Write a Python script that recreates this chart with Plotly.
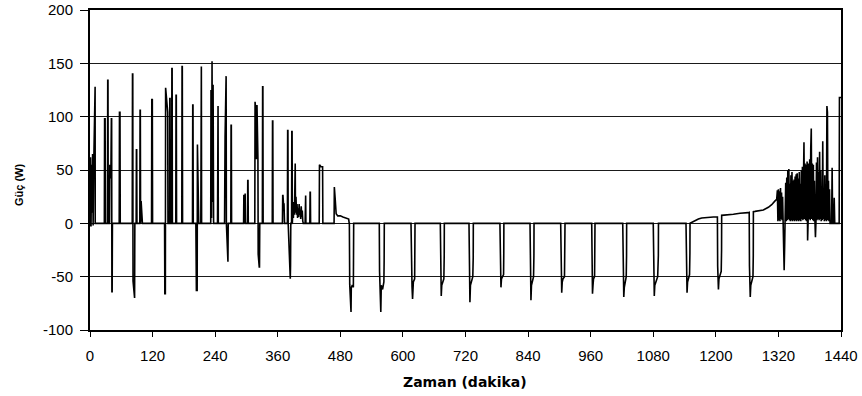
import plotly.graph_objects as go

# ---------------- data (minutes, watts) ----------------
morning_t = [0, 0.5, 1, 2, 3, 4, 5, 6, 7, 9, 9.8, 10,
             27.5, 28, 29, 29.5,
             33.5, 34, 34.5, 35,
             37.5, 38, 39, 40, 41, 41.5, 42, 42.5, 43,
             56, 56.5, 57.5, 58,
             81, 81.5, 82, 82.5, 85.5, 86,
             88.5, 89, 89.5, 90,
             95.5, 96, 96.5, 97, 98, 100.5,
             118, 118.5, 119.5, 120,
             143, 143.5, 144.5, 145, 149, 149.5,
             152.5, 153, 153.5, 154,
             156.5, 157, 157.5, 158,
             164.5, 165, 165.5, 166,
             176, 176.5, 177, 177.5,
             196.5, 197, 197.5, 198,
             203, 204, 205.5, 206, 208, 208.5,
             212.5, 213, 213.5, 214,
             231.5, 232, 233, 234, 235, 236, 237,
             244.5, 245, 245.5, 246,
             258, 259, 260.5, 261, 261.5, 262, 264, 264.5, 265,
             270, 270.5, 271, 271.5,
             294.5, 295, 295.5, 296, 297, 297.5, 298,
             302, 302.5, 303, 303.5,
             316, 316.5, 318, 319, 320.2, 322, 322.5, 324.5, 325, 325.5,
             330.5, 331, 331.5, 332]
morning_w = [0, -3, 62, -3, 55, 10, 65, -2, 50, 128, 128, 0,
             0, 98, 98, 0,
             0, 134, 134, 0,
             0, 55, 50, 42, 98, 98, -64, -64, 0,
             0, 104, 104, 0,
             0, 140, 140, -54, -70, 0,
             0, 69, 69, 0,
             0, 106, 106, 0, 21, 0,
             0, 116, 116, 0,
             0, -66, -66, 127, 104, 0,
             0, 117, 117, 0,
             0, 145, 145, 0,
             0, 120, 120, 0,
             0, 147, 147, 0,
             0, 111, 111, 0,
             0, -63, -63, 74, 30, 0,
             0, 147, 147, 0,
             0, 125, 5, 152, 20, 130, 0,
             0, 110, 110, 0,
             0, 81, 138, 138, 0, -10, -36, -36, 0,
             0, 92, 92, 0,
             0, 26, 26, 0, 28, 28, 0,
             0, 40, 40, 0,
             0, 114, 105, 60, 111, 60, -29, -41, -41, 0,
             0, 128, 128, 0]

late_morning_t = [349.5, 350, 350.5, 351,
                  369, 369.5, 370, 371, 372, 373,
                  378.5, 379, 379.5, 380, 381, 384, 384.5, 385,
                  386.5, 387, 387.5, 388, 389, 390, 391, 392, 393, 393.5, 394, 395,
                  396, 397, 398, 399, 400, 401, 402, 403, 404, 405, 406, 407, 408, 409,
                  412.5, 413, 413.5, 414,
                  421.5, 422, 422.5, 423,
                  439.5, 440, 443, 446, 446.5,
                  468, 468.5, 470, 472, 475, 480, 485, 490, 496, 497]
late_morning_w = [0, 96, 96, 0,
                  0, 26, 26, 18, 18, 0,
                  0, 87, 87, 0, -13, -52, -40, 0,
                  0, 86, 86, 0, 15, 5, 20, 8, 56, 56, 10, 25,
                  8, 18, 5, 14, 6, 18, 8, 12, 4, 16, 6, 12, 2, 0,
                  0, 26, 26, 0,
                  0, 29, 29, 0,
                  0, 55, 53, 53, 0,
                  0, 34, 24, 9, 7, 7, 6, 5, 4, 0]

midday_t = [497.3, 498, 500.5, 501, 503, 505, 505.3, 505.6,
            554.7, 555.2, 557.6, 558.5, 561, 563.5, 564, 564.3,
            615.5, 616, 617.5, 618.5, 620, 622.5, 623, 623.2,
            671.7, 672.2, 673.5, 674.5, 676, 678.5, 679.2, 679.4,
            726.7, 727.2, 728.5, 729.5, 731, 734, 734.8, 735,
            786, 786.5, 788, 789, 790.5, 793, 793.4, 793.6,
            843.7, 844.2, 845.5, 846.5, 848, 850.5, 851.2, 851.4,
            902.5, 903, 904.5, 905.5, 907, 909.8, 910.6, 910.8,
            962, 962.5, 963.5, 964.5, 965.5, 967.5, 968.1, 968.3,
            1021.5, 1022, 1023.5, 1024.5, 1026, 1028.2, 1028.8, 1029,
            1080, 1080.6, 1082, 1083, 1085, 1088.5, 1089.8, 1090,
            1142.8, 1143.3, 1144.8, 1145.8, 1147, 1149.6, 1150.3, 1150.5,
            1166.5, 1172.9, 1195.2,
            1203, 1203.5, 1205, 1206, 1207.5, 1210.3, 1211, 1211.2,
            1233.6, 1246.4, 1262,
            1264, 1264.5, 1266, 1267, 1268.5, 1271.2, 1271.8, 1272,
            1275.1, 1291.1, 1300.7, 1307.1, 1313.5, 1316.7]
midday_w = [0, -57, -83, -60, -58, -60, -30, 0,
            0, -45, -83, -58, -62, -55, -35, 0,
            0, -45, -60, -71, -55, -52, -30, 0,
            0, -45, -68, -58, -55, -52, -30, 0,
            0, -45, -74, -58, -55, -50, -32, 0,
            0, -40, -60, -52, -50, -48, -28, 0,
            0, -45, -72, -58, -55, -50, -30, 0,
            0, -45, -65, -55, -52, -50, -28, 0,
            0, -45, -66, -58, -52, -50, -28, 0,
            0, -45, -69, -60, -55, -50, -30, 0,
            0, -45, -68, -58, -55, -50, -30, 0,
            0, -45, -65, -55, -52, -48, -28, 0,
            4, 5, 6,
            6, -40, -62, -52, -50, -45, -25, 7.5,
            8.5, 9.5, 10,
            10.3, -40, -69, -58, -55, -50, -30, 11,
            11.2, 12.5, 15, 17.5, 21, 22.5]

evening_t = [1318, 1319, 1320, 1321, 1322, 1323, 1324, 1325, 1326, 1327, 1328,
             1331, 1332, 1333, 1334, 1335, 1336, 1337, 1338, 1339, 1340,
             1341, 1342, 1343, 1344, 1345, 1346, 1347, 1348, 1349, 1350,
             1351, 1352, 1353, 1354, 1355, 1356, 1357, 1358, 1359, 1360,
             1361, 1362, 1363, 1364, 1365, 1366, 1367, 1368, 1369, 1370,
             1371, 1372, 1373, 1374, 1375, 1376, 1377, 1378, 1379, 1380,
             1381, 1382, 1383, 1384, 1385, 1386, 1387, 1388, 1389, 1390,
             1391, 1392, 1393, 1394, 1395, 1396, 1397, 1398, 1399, 1400,
             1401, 1402, 1403, 1404, 1405, 1406, 1407, 1408, 1409, 1410,
             1411, 1412, 1413, 1414, 1415, 1416, 1417, 1418, 1419,
             1422, 1423, 1424, 1426, 1427, 1428, 1436.5, 1437, 1440]
evening_w = [31, 2, 32, 3, 30, 2, 33, 4, 29, 3, 25,
             -44, -20, 0, 38, 2, 43, 3, 50, 4, 51,
             3, 37, 2, 45, 3, 48, 2, 40, 3, 41,
             2, 44, 3, 46, 2, 47, 3, 42, 2, 48,
             3, 37, 2, 50, 4, 53, 3, 58, 76, 4,
             56, 3, 55, 2, 58, -16, 3, 56, 4, 60,
             3, 70, 89, 4, 56, 3, 55, 2, 40, 3,
             -13, 2, 57, 3, 62, 4, 48, 3, 67, 4,
             50, 2, 35, 3, 77, 4, 32, 2, 45, 3,
             30, 2, 110, 104, 3, 40, 2, 32, 0,
             0, 52, 0, 0, 24, 0, 0, 118, 118]

x_ticks = [0, 120, 240, 360, 480, 600, 720, 840, 960, 1080, 1200, 1320, 1440]
y_ticks = [-100, -50, 0, 50, 100, 150, 200]
y_tick_labels = ["-100", "-50", "0", "50", "100", "150", "200"]
x_title = "Zaman (dakika)"
y_title = "Güç (W)"

minutes = morning_t + late_morning_t + midday_t + evening_t
power = morning_w + late_morning_w + midday_w + evening_w

# ---------------- figure ----------------
W, H = 862, 396
L, R, T, B = 90, 21, 10, 66
FONT = "Liberation Sans, Arial, sans-serif"
TITLE_FONT = "DejaVu Sans, Liberation Sans, sans-serif"

fig = go.Figure()
fig.add_trace(go.Scatter(x=minutes, y=power, mode="lines",
                         line=dict(color="black", width=1.6),
                         hoverinfo="x+y", showlegend=False, cliponaxis=True))

fig.update_layout(
    width=W, height=H,
    margin=dict(l=L, r=R, t=T, b=B, pad=0, autoexpand=False),
    paper_bgcolor="white", plot_bgcolor="white",
    font=dict(family=FONT, color="black"),
    showlegend=False,
)
fig.update_xaxes(range=[0, 1440], tickmode="array", tickvals=x_ticks,
                 ticks="outside", ticklen=5, tickwidth=1, tickcolor="black",
                 showgrid=False, zeroline=False, automargin=False,
                 showline=True, linecolor="black", linewidth=2, mirror=True,
                 tickfont=dict(size=15, family=FONT, color="black"),
                 ticklabelstandoff=6)
fig.update_yaxes(range=[-100, 200], tickmode="array", tickvals=y_ticks,
                 ticktext=y_tick_labels, automargin=False,
                 ticks="outside", ticklen=8, tickwidth=1, tickcolor="black",
                 showgrid=True, gridcolor="#1a1a1a", gridwidth=1, zeroline=False,
                 showline=True, linecolor="black", linewidth=2, mirror=True,
                 tickfont=dict(size=15, family=FONT, color="black"),
                 ticklabelstandoff=4)

plot_w = W - L - R
plot_h = H - T - B
fig.add_annotation(text="<b>" + x_title + "</b>", xref="paper", yref="paper",
                   x=(465 - L) / plot_w, y=-(382 - (H - B)) / plot_h,
                   xanchor="center", yanchor="middle", showarrow=False,
                   font=dict(size=14, family=TITLE_FONT, color="black"))
fig.add_annotation(text="<b>" + y_title + "</b>", xref="paper", yref="paper",
                   x=(19 - L) / plot_w, y=((H - B) - 185) / plot_h,
                   xanchor="center", yanchor="middle", showarrow=False,
                   textangle=-90,
                   font=dict(size=11, family=FONT, color="black"))

fig.write_html("out.html",
               config={"displayModeBar": False},
               post_script="document.body.style.margin='0';"
                           "document.body.style.overflow='hidden';")
